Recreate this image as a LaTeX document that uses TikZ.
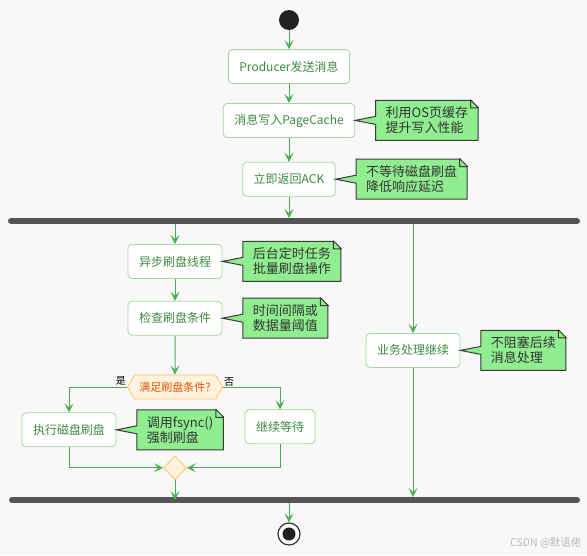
\documentclass[tikz,border=0pt]{standalone}
\usepackage{fontspec}
\setmainfont{Noto Sans CJK SC}
\usetikzlibrary{shapes.geometric, shapes.symbols, shapes.callouts, arrows.meta, positioning}

\definecolor{paper}{HTML}{F8F8F8}
\definecolor{flow}{HTML}{4CAF50}
\definecolor{boxline}{HTML}{A3D6A5}
\definecolor{boxtext}{HTML}{3D8B40}
\definecolor{notefill}{HTML}{90EE90}
\definecolor{noteline}{HTML}{3A3A3A}
\definecolor{notetext}{HTML}{333333}
\definecolor{choiceline}{HTML}{FFC266}
\definecolor{choicefill}{HTML}{FFF3E0}
\definecolor{choicetext}{HTML}{E65100}
\definecolor{barcol}{HTML}{555555}
\definecolor{markgray}{HTML}{BBBBBB}

\begin{document}
\begin{tikzpicture}[
    x=1pt, y=-1pt,
    action/.style={rectangle, rounded corners=4pt, draw=boxline, line width=0.8pt, fill=white, text=boxtext, minimum height=34pt, inner xsep=11pt, font=\fontsize{12}{14}\selectfont},
    note/.style={rectangle callout, callout pointer width=8pt, draw=noteline, line width=1pt, fill=notefill, text=notetext, align=left, minimum height=40pt, inner xsep=10pt, font=\fontsize{13}{15}\selectfont},
    choice/.style={signal, signal to=west and east, signal pointer angle=120, draw=choiceline, line width=0.8pt, fill=choicefill, text=choicetext, minimum width=95pt, minimum height=24pt, inner sep=1pt, font=\fontsize{11}{13}\selectfont},
    merge/.style={diamond, draw=choiceline, line width=0.8pt, fill=choicefill, minimum width=23pt, minimum height=24pt, inner sep=0pt},
    tag/.style={font=\fontsize{10}{12}\selectfont, inner sep=1pt},
    arrow/.style={-{Stealth[length=9pt, width=9pt, inset=4pt]}, draw=flow, line width=1pt},
    bar/.style={draw=barcol, line width=6pt, line cap=round},
    node distance=20pt
]

% Paper
\fill[paper] (0,0) rectangle (587,555);
\useasboundingbox (0,0) rectangle (587,555);

% Main sequence
\node[circle, fill=black!87, minimum size=20pt, inner sep=0pt] (start) at (289,20) {};
\node[action, below=19pt of start] (producer) {Producer发送消息};
\node[action, below=19pt of producer] (cache) {消息写入PageCache};
\node[action, below=24pt of cache] (ack) {立即返回ACK};

% Fork and join bars
\coordinate (fork1) at (289,221);
\coordinate (f1a) at (175,221);
\coordinate (f1b) at (413,221);
\draw[bar] (11,221) -- (577,221);

% Flush branch
\node[action, below=23pt of f1a] (async) {异步刷盘线程};
\node[action, below=22pt of async] (check) {检查刷盘条件};
\node[choice, below=39pt of check] (decide) {满足刷盘条件?};
\node[action, below=13pt of decide, xshift=-106pt] (flush) {执行磁盘刷盘};
\node[action, below=10pt of decide, xshift=105pt] (waiting) {继续等待};
\node[merge, below=56pt of decide] (merge) {};

% Business branch
\node[action, below=112pt of f1b] (biz) {业务处理继续};

% Join
\coordinate[below=23pt of merge] (fork2);
\coordinate (f2b) at (413,500);
\coordinate (f2c) at (289,500);
\draw[bar] (12,500) -- (577,500);

% End
\node[circle, draw=black!80, line width=1.2pt, fill=white, minimum size=22pt, inner sep=0pt] (stop) at (289,534) {};
\fill[black!87] (stop) circle (6.5pt);

% Notes
\node[note, right=20pt of cache, callout absolute pointer={(cache.east)}] (note1) {利用OS页缓存\\提升写入性能};
\node[note, right=20pt of ack, callout absolute pointer={(ack.east)}] (note2) {不等待磁盘刷盘\\降低响应延迟};
\node[note, right=20pt of async, callout absolute pointer={(async.east)}] (note3) {后台定时任务\\批量刷盘操作};
\node[note, right=20pt of check, callout absolute pointer={(check.east)}] (note4) {时间间隔或\\数据量阈值};
\node[note, right=20pt of flush, callout absolute pointer={(flush.east)}] (note5) {调用fsync()\\强制刷盘};
\node[note, right=20pt of biz, callout absolute pointer={(biz.east)}] (note6) {不阻塞后续\\消息处理};

\foreach \n in {note1,note2,note3,note4,note5,note6} {
    \fill[paper] ([xshift=-8pt,yshift=1pt]\n.north east) -- ([xshift=1pt,yshift=1pt]\n.north east) -- ([xshift=1pt,yshift=-8pt]\n.north east) -- cycle;
    \draw[noteline, fill=notefill, line width=1pt, line join=round] ([xshift=-8pt]\n.north east) -- ([yshift=-8pt]\n.north east) -- ([xshift=-8pt,yshift=-8pt]\n.north east) -- cycle;
}

% Arrows
\draw[arrow] (start) -- (producer);
\draw[arrow] (producer) -- (cache);
\draw[arrow] (cache) -- (ack);
\draw[arrow] (ack) -- ([yshift=3pt]fork1);
\draw[arrow] ([yshift=-3pt]f1a) -- (async);
\draw[arrow] (async) -- (check);
\draw[arrow] (check) -- (decide);
\draw[arrow] (decide.west) -| (flush.north);
\draw[arrow] (decide.east) -| (waiting.north);
\draw[arrow] (flush.south) |- (merge.west);
\draw[arrow] (waiting.south) |- (merge.east);
\draw[arrow] (merge) -- ([yshift=3pt]fork2);
\draw[arrow] ([yshift=-3pt]f1b) -- (biz);
\draw[arrow] (biz) -- ([yshift=3pt]f2b);
\draw[arrow] ([yshift=-3pt]f2c) -- (stop);

% Labels
\node[tag, anchor=south east] at (decide.west) {是};
\node[tag, anchor=south west] at (decide.east) {否};
\node[font=\fontsize{10.5}{12}\selectfont, text=markgray, anchor=east] (mark) at (585,543) {CSDN @默语佬};

\end{tikzpicture}
\end{document}
